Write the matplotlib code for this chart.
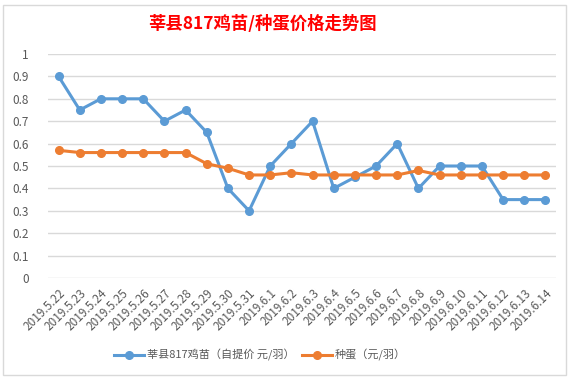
import matplotlib.pyplot as plt
import matplotlib.patches as mpatches

plt.rcParams["font.family"] = ["Noto Sans CJK SC", "DejaVu Sans"]

dates = ["2019.5.22", "2019.5.23", "2019.5.24", "2019.5.25", "2019.5.26", "2019.5.27",
         "2019.5.28", "2019.5.29", "2019.5.30", "2019.5.31", "2019.6.1", "2019.6.2",
         "2019.6.3", "2019.6.4", "2019.6.5", "2019.6.6", "2019.6.7", "2019.6.8",
         "2019.6.9", "2019.6.10", "2019.6.11", "2019.6.12", "2019.6.13", "2019.6.14"]
chick_price = [0.9, 0.75, 0.8, 0.8, 0.8, 0.7, 0.75, 0.65, 0.4, 0.3, 0.5, 0.6,
               0.7, 0.4, 0.45, 0.5, 0.6, 0.4, 0.5, 0.5, 0.5, 0.35, 0.35, 0.35]
egg_price = [0.57, 0.56, 0.56, 0.56, 0.56, 0.56, 0.56, 0.51, 0.49, 0.46, 0.46, 0.47,
             0.46, 0.46, 0.46, 0.46, 0.46, 0.48, 0.46, 0.46, 0.46, 0.46, 0.46, 0.46]
y_ticks = [0, 0.1, 0.2, 0.3, 0.4, 0.5, 0.6, 0.7, 0.8, 0.9, 1]
y_tick_labels = ["0", "0.1", "0.2", "0.3", "0.4", "0.5", "0.6", "0.7", "0.8", "0.9", "1"]

W, H = 573, 378
fig = plt.figure(figsize=(W / 100, H / 100), dpi=100)

# chart area border
fig.patches.append(mpatches.Rectangle((3 / W, 3 / H), 563 / W, 370 / H, transform=fig.transFigure,
                                      fill=False, edgecolor="#d9d9d9", linewidth=1))

ax = fig.add_axes([48 / W, (H - 278) / H, 508 / W, 224 / H])
x = list(range(len(dates)))
ax.plot(x, chick_price, color="#5B9BD5", linewidth=2.2, marker="o", markersize=5.5,
        label="莘县817鸡苗（自提价 元/羽）", zorder=3)
ax.plot(x, egg_price, color="#ED7D31", linewidth=2.2, marker="o", markersize=5.5,
        label="种蛋（元/羽）", zorder=3)

ax.set_xlim(-0.5, len(dates) - 0.5)
ax.set_ylim(0, 1)
ax.set_yticks(y_ticks)
ax.set_yticklabels(y_tick_labels)
ax.set_xticks(x)
ax.set_xticklabels(dates, rotation=45, ha="right", rotation_mode="anchor")
ax.tick_params(axis="both", length=0, colors="#595959", labelsize=8.5)
ax.tick_params(axis="y", pad=14)
ax.tick_params(axis="x", pad=6)
ax.grid(axis="y", color="#d9d9d9", linewidth=1)
for s in ax.spines.values():
    s.set_visible(False)

fig.text(262 / W, 1 - 24 / H, "莘县817鸡苗/种蛋价格走势图", color="#ff0000",
         fontsize=12.5, fontweight="bold", ha="center", va="center")

fig.legend(loc="center", bbox_to_anchor=(260 / W, 1 - 355 / H), ncol=2, frameon=False,
           fontsize=8, labelcolor="#595959", handlelength=2.7, columnspacing=0.6,
           handletextpad=0.3)

fig.savefig("out.png", dpi=100)
